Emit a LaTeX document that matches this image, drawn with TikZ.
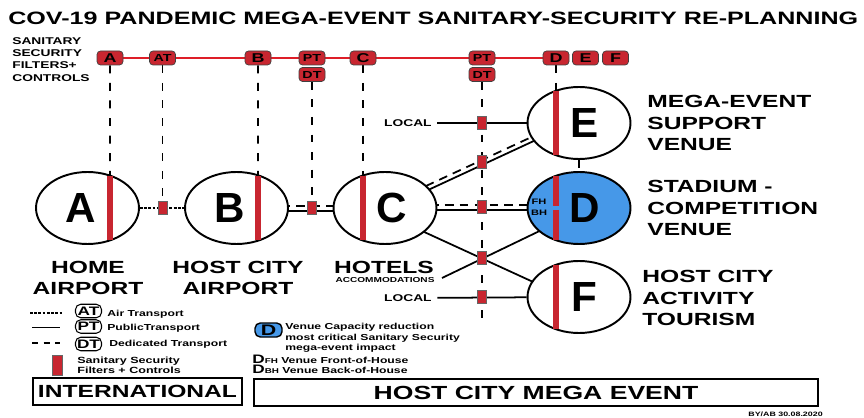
\documentclass[tikz,border=0pt]{standalone}
\usepackage{fontspec}
\setmainfont{Liberation Sans}[FakeStretch=1.4]
\newfontfamily\letterfont{Liberation Sans}
\usetikzlibrary{shapes.geometric,calc,backgrounds}
\definecolor{sanred}{RGB}{200,38,48}
\definecolor{lineRed}{RGB}{222,30,40}
\definecolor{stadblue}{RGB}{70,152,232}
\newcommand{\fsz}[2]{\fontsize{#1}{#2}\bfseries}

\begin{document}
\begin{tikzpicture}[
  x=0.02cm, y=-0.02cm,
  venue/.style={ellipse, draw, line width=1.1pt, fill=white, minimum width=2.06cm, minimum height=1.44cm, inner sep=0, font=\letterfont\fsz{24}{24}},
  filt/.style={draw=black!75, line width=0.4pt, fill=sanred, rounded corners=2pt, minimum width=0.52cm, minimum height=0.28cm, inner sep=0, font=\fsz{7.3}{8}},
  filtsm/.style={filt, font=\fsz{5.8}{6}},
  sq/.style={draw=black!60, line width=0.3pt, fill=sanred, minimum width=0.18cm, minimum height=0.26cm, inner sep=0},
  sbar/.style={sanred, line width=3.4pt},
  vdash/.style={line width=1pt, dash pattern=on 4.5pt off 5.5pt},
  air/.style={line width=1pt, dash pattern=on 1.6pt off 0.8pt},
  pub/.style={line width=1pt},
  ded/.style={line width=1pt, dash pattern=on 5pt off 3.5pt},
  redline/.style={lineRed, line width=0.7pt},
  lbl/.style={inner sep=0, font=\fsz{10}{12}},
  legbox/.style={draw, line width=0.6pt, rounded corners=3pt, minimum width=0.52cm, minimum height=0.27cm, inner sep=0, font=\fsz{7}{8}},
  legtxt/.style={inner sep=0, font=\fsz{4.95}{6}}
]
\useasboundingbox (0,0) rectangle (864,418);

% title + filter header
\node[lbl, anchor=base west, font=\fsz{10.2}{12}] (title) at (8,25) {COV-19 PANDEMIC MEGA-EVENT SANITARY-SECURITY RE-PLANNING};
\node[lbl, anchor=north west, align=left, font=\fsz{5.6}{7}] (hdr) at (12,37) {SANITARY\\SECURITY\\FILTERS+\\CONTROLS};

% sanitary-security filters (top row)
\foreach \nm/\x/\t in {fA/110/A, fB/258/B, fC/363/C, fD/556/D, fE/585.5/E, fF/615.5/F}
  \node[filt] (\nm) at (\x,58) {\t};
\foreach \nm/\x/\y/\t in {fAT/162.5/58/AT, fPT/312/58/PT, fDT/312/74.5/DT, fPT2/482/58/PT, fDT2/482/74.5/DT}
  \node[filtsm] (\nm) at (\x,\y) {\t};

% venues
\node[venue] (A) at (87.5,208) {A\kern8pt};
\node[venue] (B) at (236.5,208) {B\kern8pt};
\node[venue] (C) at (385,208) {\kern8pt C};
\node[venue] (E) at (579,123) {\kern6pt E};
\node[venue, fill=stadblue] (D) at (579,208) {\kern6pt D};
\node[venue] (F) at (579,297) {\kern6pt F};

% filter bars inside the venues
\foreach \n/\dx in {A/22.5, B/21.5, C/-22, E/-23, F/-23}
  \draw[sbar] ($(\n)+(\dx,-32)$) coordinate (\n-top) -- ($(\n)+(\dx,32)$);
% D split: front-of-house / back-of-house
\draw[sbar] ($(D)+(-23,-32)$) -- ($(D)+(-23,-2)$);
\draw[sbar] ($(D)+(-23,2)$) -- ($(D)+(-23,32)$);
\node[lbl, font=\fsz{4.5}{5}] (fh) at (539,202) {FH};
\node[lbl, font=\fsz{4.5}{5}] (bh) at (539,213) {BH};

% filter checkpoints on the links
\foreach \nm/\x/\y in {sAB/162.5/208, sBC/312/208, q1/482/123, q2/482/162, q3/482/207, q4/482/258, q5/482/297}
  \node[sq] (\nm) at (\x,\y) {};

% venue labels
\node[lbl, anchor=north, align=center, font=\fsz{10}{11.9}] (homeLbl) at (88,261) {HOME\\AIRPORT};
\node[lbl, anchor=north, align=center, font=\fsz{10}{11.9}] (hostLbl) at (238,261) {HOST CITY\\AIRPORT};
\node[lbl, anchor=north] (hotelsLbl) at (384,261) {HOTELS};
\node[lbl, anchor=north, font=\fsz{4.1}{5}] (accLbl) at (385,277) {ACCOMMODATIONS};
\node[lbl, anchor=north west, align=left, font=\fsz{10}{12.2}] (supLbl) at (647,95) {MEGA-EVENT\\SUPPORT\\VENUE};
\node[lbl, anchor=north west, align=left, font=\fsz{10}{12.2}] (stadLbl) at (647,180) {STADIUM -\\COMPETITION\\VENUE};
\node[lbl, anchor=north west, align=left, font=\fsz{10}{12.2}] (actLbl) at (642,270) {HOST CITY\\ACTIVITY\\TOURISM};
\node[lbl, anchor=east, font=\fsz{5.6}{7}] (loc1) at (432,123) {LOCAL};
\node[lbl, anchor=east, font=\fsz{5.6}{7}] (loc2) at (432,298) {LOCAL};
\coordinate (accEnd) at (442,278);
\coordinate (dtEnd) at (482,322);

% links (behind everything)
\begin{scope}[on background layer]
  \draw[redline] (fA.center) -- (fD.center);
  \draw[vdash] (fA) -- (A-top);
  \draw[vdash] (fB) -- (B-top);
  \draw[vdash] (fC) -- (C-top);
  \draw[vdash] (fD) -- (E-top);
  \draw[vdash] (fAT) -- (sAB);
  \draw[vdash] (fDT) -- (sBC);
  \draw[vdash] (fDT2) -- (dtEnd);
  \draw[vdash] (E) -- (D);
  \draw[air] (A) -- (B);
  \draw[ded] ($(B)+(0,-2)$) -- ($(C)+(0,-2)$);
  \draw[pub] ($(B)+(0,3)$) -- ($(C)+(0,3)$);
  \draw[ded] ($(C)+(0,-3)$) -- ($(E)+(0,-8)$);
  \draw[pub] ($(C)+(0,2)$) -- ($(E)+(0,-3)$);
  \draw[ded] ($(C)+(0,-3)$) -- ($(D)+(0,-3)$);
  \draw[pub] ($(C)+(0,2)$) -- ($(D)+(0,2)$);
  \draw[pub] ($(C)+(0,6)$) -- ($(F)+(0,6)$);
  \draw[pub] (accEnd) -- ($(D)+(0,4)$);
  \draw[pub, shorten <=3pt] (loc1) -- (E);
  \draw[pub, shorten <=3pt] (loc2) -- (F);
\end{scope}

% legend: transport lines
\draw[air] (30,313) -- (62,313);
\draw[pub] (32,327.5) -- (60,327.5);
\draw[line width=1pt, dash pattern=on 3.6pt off 3pt] (32,343) -- (60,343);
\foreach \nm/\y/\t in {lAT/311/AT, lPT/326.5/PT, lDT/344/DT}
  \node[legbox] (\nm) at (88.5,\y) {\t};
\node[legtxt, anchor=base west] (tAT) at (107,316.5) {Air Transport};
\node[legtxt, anchor=base west] (tPT) at (107,330.5) {PublicTransport};
\node[legtxt, anchor=base west] (tDT) at (109,346.5) {Dedicated Transport};
\node[sq, minimum width=0.2cm, minimum height=0.4cm] (legBar) at (57,365) {};
\node[legtxt, anchor=north west, align=left, font=\fsz{5.1}{5.5}] (legBarTxt) at (77,357) {Sanitary Security\\Filters + Controls};

% legend: stadium
\node[draw, line width=0.8pt, fill=stadblue, rounded corners=3pt, minimum width=0.54cm, minimum height=0.28cm, inner sep=0, font=\fsz{8.7}{9}] (legD) at (268.5,330) {D};
\node[legtxt, anchor=north west, align=left] (legDtxt) at (285,323) {Venue Capacity reduction\\most critical Sanitary Security\\mega-event impact};
\node[legtxt, anchor=base west] (legFH) at (252,363.5) {{\fsz{7}{8}D}{\fsz{4}{5}FH} Venue Front-of-House};
\node[legtxt, anchor=base west] (legBH) at (252,373.5) {{\fsz{7}{8}D}{\fsz{4}{5}BH} Venue Back-of-House};

% scope boxes
\node[lbl, draw, line width=1pt, minimum width=4.18cm, minimum height=0.54cm] (intl) at (137.5,391.5) {INTERNATIONAL};
\node[lbl, draw, line width=1pt, minimum width=11.28cm, minimum height=0.54cm, font=\fsz{10.8}{12}] (hostEv) at (536,392.5) {HOST CITY MEGA EVENT};
\node[legtxt, anchor=north west, font=\fsz{3.6}{4}] (byline) at (748,411.5) {BY/AB 30.08.2020};
\end{tikzpicture}
\end{document}
